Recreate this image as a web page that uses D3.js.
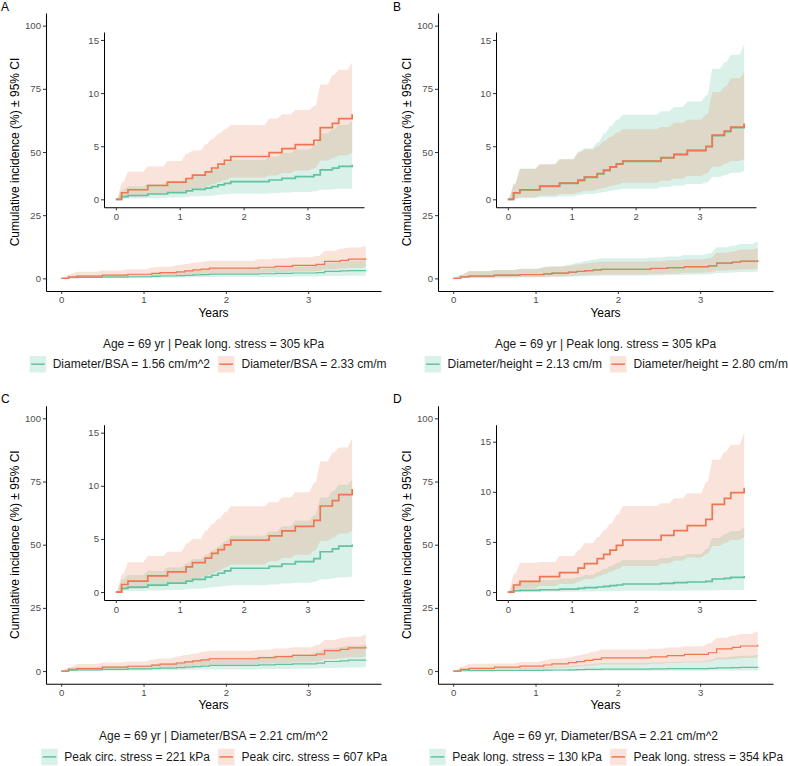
<!DOCTYPE html>
<html><head><meta charset="utf-8">
<script src="https://cdn.jsdelivr.net/npm/d3@7"></script>
<style>
body{margin:0;background:#fff}
svg{display:block}
text{font-family:"Liberation Sans",Arial,Helvetica,sans-serif}
</style>
</head><body>
<svg id="chart" width="788" height="766"></svg>
<script>
// ---------- DATA ----------
const times = [0,0.09,0.19,0.50,0.81,1.10,1.20,1.40,1.50,1.60,1.70,1.80,2.40,2.60,2.81,3.10,3.20,3.39,3.49,3.70];
const xTicks = [0,1,2,3];
const mainYTicks = [0,25,50,75,100];
const insetYTicks = [0,5,10,15];

const panelLetters = ["A","B","C","D"];
const captions = [
  "Age = 69 yr | Peak long. stress = 305 kPa",
  "Age = 69 yr | Peak long. stress = 305 kPa",
  "Age = 69 yr | Diameter/BSA = 2.21 cm/m^2",
  "Age = 69 yr, Diameter/BSA = 2.21 cm/m^2"
];
const greenLabels = ["Diameter/BSA = 1.56 cm/m^2","Diameter/height = 2.13 cm/m","Peak circ. stress = 221 kPa","Peak long. stress = 130 kPa"];
const orangeLabels = ["Diameter/BSA = 2.33 cm/m","Diameter/height = 2.80 cm/m","Peak circ. stress = 607 kPa","Peak long. stress = 354 kPa"];
const yTitle = "Cumulative incidence (%) \u00B1 95% CI";
const xTitle = "Years";

// Panel A
const aGreenEst  = [0,0.25,0.36,0.50,0.63,0.80,0.93,1.06,1.20,1.36,1.50,1.67,1.82,1.97,2.13,2.30,2.78,2.94,3.10,3.25];
const aGreenLo   = [0,0.04,0.07,0.12,0.17,0.23,0.28,0.32,0.37,0.42,0.47,0.52,0.58,0.64,0.70,0.76,0.90,0.95,1.00,1.03];
const aGreenHi   = [0,0.90,1.20,1.45,1.65,1.95,2.20,2.45,2.75,3.05,3.35,3.70,4.00,4.35,4.70,5.10,6.20,6.60,7.00,7.40];
const aOrangeEst = [0,0.62,0.90,1.30,1.62,1.96,2.27,2.58,2.95,3.32,3.68,4.03,4.40,4.78,5.15,5.56,6.75,7.15,7.60,8.00];
const aOrangeLo  = [0,0.15,0.25,0.50,0.68,0.87,1.00,1.20,1.42,1.62,1.82,2.05,2.25,2.48,2.72,2.95,3.65,3.90,4.15,4.40];
const aOrangeHi  = [0,1.60,2.60,3.10,3.60,4.30,4.60,5.20,5.70,6.20,6.60,7.00,7.60,8.00,8.40,8.80,10.80,11.70,12.20,12.90];
// Panel B
const bGreenEst  = [0,0.60,0.88,1.22,1.50,1.77,2.06,2.40,2.71,3.02,3.30,3.58,3.90,4.21,4.58,4.95,6.00,6.38,6.75,7.10];
const bGreenLo   = [0,0.05,0.10,0.20,0.30,0.40,0.50,0.60,0.70,0.80,0.90,1.00,1.15,1.30,1.45,1.60,2.10,2.30,2.50,2.70];
const bGreenHi   = [0,1.50,2.90,3.30,3.80,4.50,4.80,5.40,6.20,6.90,7.50,7.95,8.30,8.70,9.20,9.80,12.30,12.90,13.60,14.60];
const bOrangeEst = [0,0.62,0.90,1.25,1.53,1.80,2.09,2.43,2.74,3.05,3.33,3.61,3.93,4.24,4.61,4.98,6.04,6.42,6.79,7.13];
const bOrangeLo  = [0,0.10,0.20,0.35,0.50,0.65,0.80,0.95,1.10,1.25,1.40,1.55,1.75,1.95,2.20,2.45,3.10,3.35,3.60,3.80];
const bOrangeHi  = [0,1.40,2.85,3.30,3.75,4.40,4.70,5.00,5.50,5.90,6.30,6.60,6.80,7.20,7.50,8.00,10.10,10.60,11.40,12.00];
// Panel C
const cGreenEst  = [0,0.34,0.47,0.65,0.84,1.02,1.20,1.40,1.58,1.77,1.99,2.24,2.42,2.64,2.86,3.14,3.79,4.07,4.32,4.47];
const cGreenLo   = [0,0.06,0.10,0.15,0.20,0.27,0.32,0.38,0.44,0.50,0.57,0.65,0.72,0.80,0.88,0.97,1.20,1.30,1.40,1.46];
const cGreenHi   = [0,1.20,1.60,2.00,2.30,2.70,3.10,3.50,3.90,4.30,4.80,5.30,5.70,6.20,6.70,7.30,8.90,9.50,10.10,10.60];
const cOrangeEst = [0,0.71,1.02,1.52,1.90,2.36,2.76,3.20,3.63,4.00,4.44,4.88,5.28,5.75,6.18,6.74,8.10,8.60,9.16,9.70];
const cOrangeLo  = [0,0.18,0.30,0.55,0.75,1.00,1.25,1.50,1.75,2.00,2.30,2.60,2.90,3.20,3.50,3.90,4.80,5.10,5.50,5.80];
const cOrangeHi  = [0,1.70,2.80,3.40,3.80,4.60,5.00,5.80,6.40,6.90,7.50,8.07,8.45,8.90,9.40,10.30,12.30,13.10,13.60,14.50];
// Panel D
const dGreenEst  = [0,0.13,0.17,0.23,0.30,0.37,0.43,0.50,0.57,0.63,0.70,0.80,0.86,0.93,1.00,1.06,1.30,1.36,1.46,1.60];
const dGreenLo   = [0,0.01,0.02,0.03,0.04,0.05,0.06,0.07,0.08,0.09,0.10,0.12,0.13,0.14,0.15,0.16,0.19,0.20,0.21,0.23];
const dGreenHi   = [0,0.80,1.00,1.20,1.35,1.50,1.70,2.00,2.30,2.60,2.90,3.20,3.40,3.60,3.80,4.30,5.40,5.80,6.10,6.50];
const dOrangeEst = [0,0.70,1.06,1.53,1.93,2.39,2.83,3.33,3.76,4.19,4.66,5.19,5.65,6.12,6.62,7.25,8.75,9.34,9.91,10.40];
const dOrangeLo  = [0,0.20,0.35,0.60,0.80,1.05,1.30,1.55,1.80,2.05,2.30,2.60,2.85,3.15,3.45,3.80,4.60,4.90,5.20,5.50];
const dOrangeHi  = [0,1.80,2.93,3.00,3.60,4.20,4.86,5.50,6.20,6.85,7.70,8.58,8.85,9.35,9.85,11.00,13.20,14.00,14.70,15.90];

// ---------- STYLE ----------
const GREEN = "#62C29E", ORANGE = "#EE7650";
const GREEN_FILL = "#5FC59F", ORANGE_FILL = "#E98A66";
const RIBBON_ALPHA = 0.24;
const panelOffsets = [[0,0],[392,0],[0,392.7],[392,392.7]];

const panels = [
  {g:[aGreenEst,aGreenLo,aGreenHi], o:[aOrangeEst,aOrangeLo,aOrangeHi]},
  {g:[bGreenEst,bGreenLo,bGreenHi], o:[bOrangeEst,bOrangeLo,bOrangeHi]},
  {g:[cGreenEst,cGreenLo,cGreenHi], o:[cOrangeEst,cOrangeLo,cOrangeHi]},
  {g:[dGreenEst,dGreenLo,dGreenHi], o:[dOrangeEst,dOrangeLo,dOrangeHi]}
];

const svg = d3.select("#chart");
const tExt = d3.extent(times);
const tPad = (tExt[1]-tExt[0])*0.05;
const xDomain = [tExt[0]-tPad, tExt[1]+tPad];

function ribbonPts(lo, hi){
  const pts = [{t:times[0], lo:lo[0], hi:hi[0]}];
  for(let i=1;i<times.length;i++){
    const ramp = Math.min(0.07, times[i]-times[i-1]);
    pts.push({t:times[i]-ramp, lo:lo[i-1], hi:hi[i-1]});
    pts.push({t:times[i], lo:lo[i], hi:hi[i]});
  }
  return pts;
}
function linePts(est){ return times.map((t,i)=>({t, v:est[i]})); }

function styleAxis(g){
  g.select(".domain").attr("stroke","#000").attr("stroke-width",1.05);
  g.selectAll(".tick line").attr("stroke","#333").attr("stroke-width",1);
  g.selectAll(".tick text").attr("fill","#4D4D4D").style("font-size","9.6px")
    .style("font-family",'"Liberation Sans",Arial,sans-serif');
}

function drawSeries(g, x, y, p, lw){
  const area = d3.area().x(d=>x(d.t)).y0(d=>y(d.lo)).y1(d=>y(d.hi)).curve(d3.curveLinear);
  const line = d3.line().x(d=>x(d.t)).y(d=>y(d.v)).curve(d3.curveStepAfter);
  g.append("path").attr("d", area(ribbonPts(p.g[1], p.g[2]))).attr("fill",GREEN_FILL).attr("fill-opacity",RIBBON_ALPHA);
  g.append("path").attr("d", area(ribbonPts(p.o[1], p.o[2]))).attr("fill",ORANGE_FILL).attr("fill-opacity",RIBBON_ALPHA);
  g.append("path").attr("d", line(linePts(p.g[0]))).attr("fill","none").attr("stroke",GREEN).attr("stroke-width",lw);
  g.append("path").attr("d", line(linePts(p.o[0]))).attr("fill","none").attr("stroke",ORANGE).attr("stroke-width",lw);
}

panels.forEach((p, k) => {
  const [ox, oy] = panelOffsets[k];
  const G = svg.append("g").attr("transform",`translate(${ox},${oy})`);

  G.append("text").attr("x",1).attr("y",10.5).style("font-size","12px").attr("fill","#000").text(panelLetters[k]);

  // ----- main plot -----
  const x = d3.scaleLinear().domain(xDomain).range([46, 381]);
  const y = d3.scaleLinear().domain([-5, 105]).range([291, 13]);
  drawSeries(G, x, y, p, 1.2);

  const gx = G.append("g").attr("transform","translate(0,291)")
    .call(d3.axisBottom(x).tickValues(xTicks).tickFormat(d3.format("d")).tickSize(3).tickSizeOuter(0).tickPadding(2.6));
  styleAxis(gx);
  const gy = G.append("g").attr("transform","translate(46,0)")
    .call(d3.axisLeft(y).tickValues(mainYTicks).tickFormat(d3.format("d")).tickSize(3).tickSizeOuter(0).tickPadding(2));
  styleAxis(gy);

  G.append("text").attr("x",213.5).attr("y",316.5).attr("text-anchor","middle")
    .style("font-size","12px").attr("fill","#000").text(xTitle);
  G.append("text").attr("transform","translate(19.3,152) rotate(-90)").attr("text-anchor","middle")
    .style("font-size","12px").attr("fill","#000").text(yTitle);

  // ----- inset -----
  const allHi = p.g[2].concat(p.o[2]);
  const yMax = Math.max(15, d3.max(allHi));
  const xi = d3.scaleLinear().domain(xDomain).range([104, 364]);
  const yi = d3.scaleLinear().domain([-0.05*yMax, 1.05*yMax]).range([207.3, 32]);
  drawSeries(G, xi, yi, p, 1.7);
  const gxi = G.append("g").attr("transform","translate(0,207.3)")
    .call(d3.axisBottom(xi).tickValues(xTicks).tickFormat(d3.format("d")).tickSize(3).tickSizeOuter(0).tickPadding(3));
  styleAxis(gxi);
  const gyi = G.append("g").attr("transform","translate(104,0)")
    .call(d3.axisLeft(yi).tickValues(insetYTicks).tickFormat(d3.format("d")).tickSize(3).tickSizeOuter(0).tickPadding(2));
  styleAxis(gyi);

  // ----- caption & legend -----
  G.append("text").attr("x",213.5).attr("y",347.5).attr("text-anchor","middle")
    .style("font-size","12px").attr("fill","#1a1a1a").text(captions[k]);

  const t1 = G.append("text").attr("x",210).attr("y",368).attr("text-anchor","end")
    .style("font-size","12px").attr("fill","#1a1a1a").text(greenLabels[k]);
  const w1 = t1.node().getComputedTextLength();
  const key1x = 210 - w1 - 23;
  const keys = [[key1x, GREEN, GREEN_FILL],[218, ORANGE, ORANGE_FILL]];
  keys.forEach(([kx, col, fill]) => {
    G.append("rect").attr("x",kx).attr("y",356).attr("width",16.5).attr("height",16.5)
      .attr("fill",fill).attr("fill-opacity",RIBBON_ALPHA);
    G.append("line").attr("x1",kx+1.5).attr("x2",kx+15).attr("y1",364.2).attr("y2",364.2)
      .attr("stroke",col).attr("stroke-width",1.5);
  });
  G.append("text").attr("x",241.5).attr("y",368).attr("text-anchor","start")
    .style("font-size","12px").attr("fill","#1a1a1a").text(orangeLabels[k]);
});
</script>
</body></html>
